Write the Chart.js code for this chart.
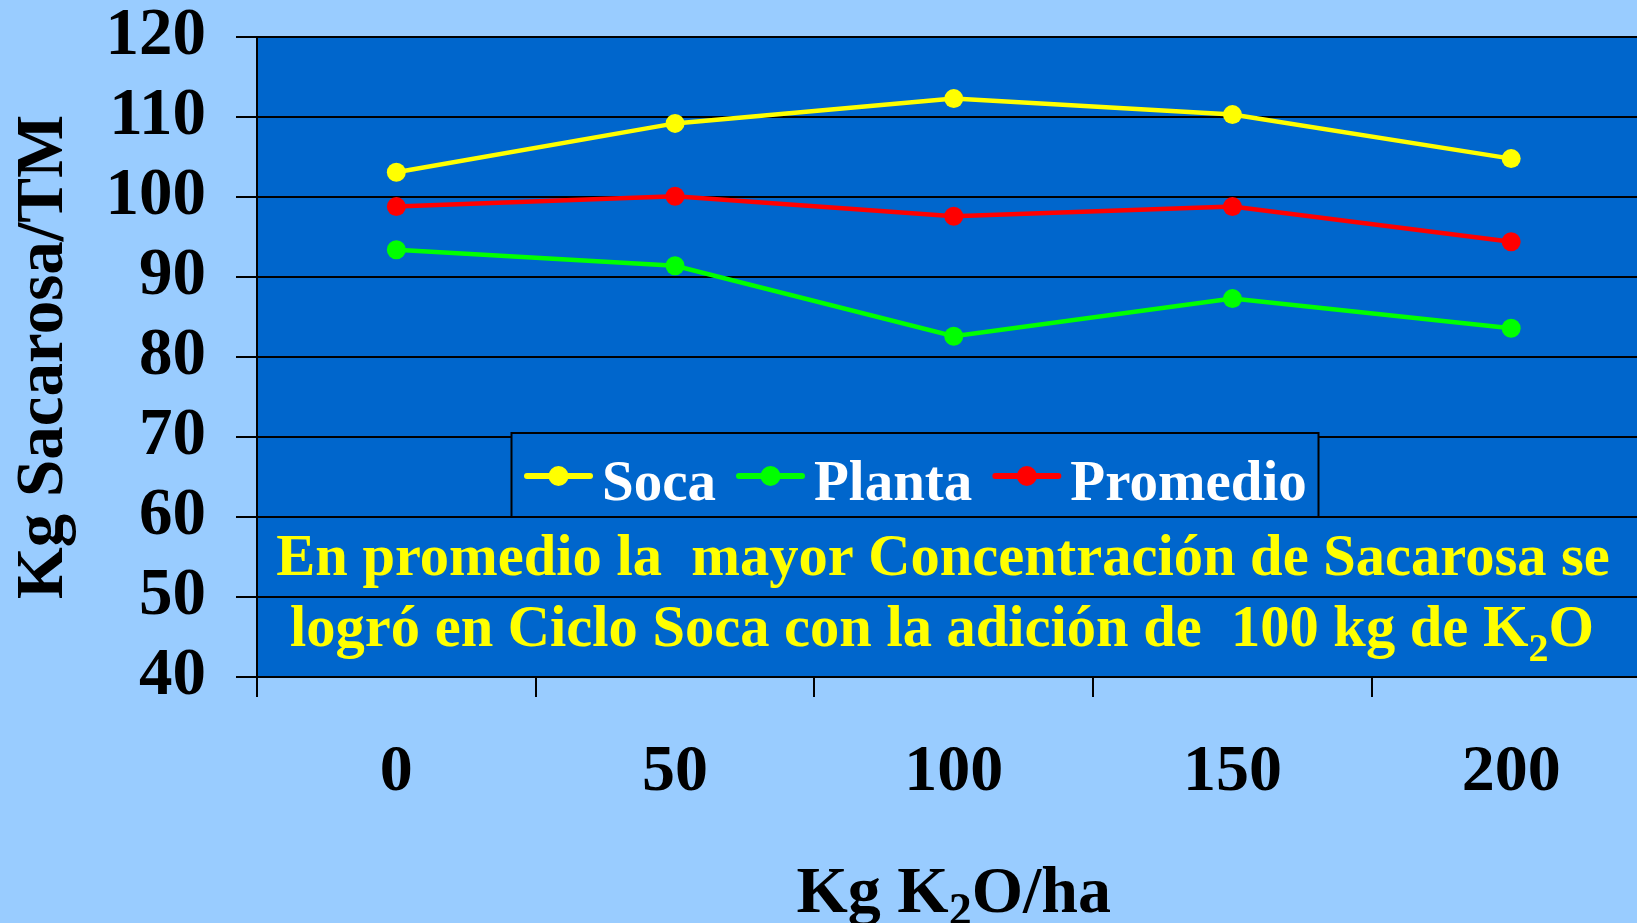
<!DOCTYPE html>
<html>
<head>
<meta charset="utf-8">
<script src="https://cdn.jsdelivr.net/npm/chart.js@4.4.1/dist/chart.umd.min.js"></script>
<style>
  html, body { margin: 0; padding: 0; overflow: hidden; background: #99CCFF; }
  #wrap { position: relative; width: 1660px; height: 923px; }
</style>
</head>
<body>
<div id="wrap"><canvas id="chart"></canvas></div>
<script>
// K2O dose categories (kg/ha)
const categories = ['0', '50', '100', '150', '200'];

// Sucrose (kg per tonne) by crop cycle
const socaValues     = [103.1, 109.2, 112.3, 110.3, 104.8];
const plantaValues   = [93.4, 91.4, 82.6, 87.3, 83.6];
const promedioValues = [98.8, 100.1, 97.6, 98.8, 94.4];

const seriesNames = ['Soca', 'Planta', 'Promedio'];

// Y axis range and tick step
const yMin = 40;
const yMax = 120;
const yStep = 10;

const yTitle = 'Kg Sacarosa/TM';
// Rich text runs: sub = subscript
const xTitleRuns = [{ text: 'Kg K' }, { text: '2', sub: true }, { text: 'O/ha' }];
const noteLine1 = [{ text: 'En promedio la  mayor Concentración de Sacarosa se' }];
const noteLine2 = [{ text: 'logró en Ciclo Soca con la adición de  100 kg de K' }, { text: '2', sub: true }, { text: 'O' }];

const FONT = "'Liberation Serif', 'Times New Roman', serif";
const PLOT_BG = '#0066CC';

function drawRuns(ctx, runs, cx, baseline, size, subSize, subDrop, color) {
  ctx.save();
  ctx.fillStyle = color;
  ctx.textAlign = 'left';
  ctx.textBaseline = 'alphabetic';
  const fontFor = r => `bold ${r.sub ? subSize : size}px ${FONT}`;
  let total = 0;
  runs.forEach(r => { ctx.font = fontFor(r); total += ctx.measureText(r.text).width; });
  let x = cx - total / 2;
  runs.forEach(r => {
    ctx.font = fontFor(r);
    ctx.fillText(r.text, x, baseline + (r.sub ? subDrop : 0));
    x += ctx.measureText(r.text).width;
  });
  ctx.restore();
}

// Blue plot background
const plotBackground = {
  id: 'plotBackground',
  beforeDraw(chart) {
    const { ctx, chartArea: a } = chart;
    ctx.save();
    ctx.fillStyle = PLOT_BG;
    ctx.fillRect(a.left, a.top, a.right - a.left, a.bottom - a.top);
    ctx.restore();
  }
};

// Boxed legend inside the plot, note text and x-axis title with subscript
const overlays = {
  id: 'overlays',
  afterDraw(chart) {
    const { ctx, chartArea: a } = chart;

    // legend box
    const box = { x: 511.5, y: 433, w: 807, h: 84 };
    ctx.save();
    ctx.fillStyle = PLOT_BG;
    ctx.fillRect(box.x, box.y, box.w, box.h);
    ctx.strokeStyle = '#000000';
    ctx.lineWidth = 2;
    ctx.strokeRect(box.x, box.y, box.w, box.h);

    ctx.font = `bold 57px ${FONT}`;
    ctx.textBaseline = 'alphabetic';
    ctx.textAlign = 'left';
    let x = 527;
    const my = 476;
    chart.data.datasets.forEach(ds => {
      ctx.strokeStyle = ds.borderColor;
      ctx.lineWidth = 6;
      ctx.lineCap = 'round';
      ctx.beginPath();
      ctx.moveTo(x, my);
      ctx.lineTo(x + 63, my);
      ctx.stroke();
      ctx.fillStyle = ds.borderColor;
      ctx.beginPath();
      ctx.arc(x + 31.5, my, 10, 0, Math.PI * 2);
      ctx.fill();
      x += 75;
      ctx.fillStyle = '#FFFFFF';
      ctx.fillText(ds.label, x, 500);
      x += ctx.measureText(ds.label).width + 23;
    });
    ctx.restore();

    // note text
    drawRuns(ctx, noteLine1, 943, 575, 58.5, 40, 15, '#FFFF00');
    drawRuns(ctx, noteLine2, 942, 646, 58.5, 40, 15, '#FFFF00');

    // x-axis title
    drawRuns(ctx, xTitleRuns, (a.left + a.right) / 2, 912, 66, 46, 13, '#000000');
  }
};

function lineSeries(label, data, color) {
  return {
    label,
    data,
    borderColor: color,
    backgroundColor: color,
    borderWidth: 4.5,
    pointRadius: 9.5,
    pointBorderWidth: 0,
    pointBackgroundColor: color,
    pointHoverRadius: 9.5,
    tension: 0,
    fill: false
  };
}

new Chart(document.getElementById('chart'), {
  type: 'line',
  data: {
    labels: categories,
    datasets: [
      lineSeries(seriesNames[0], socaValues, '#FFFF00'),
      lineSeries(seriesNames[1], plantaValues, '#00FF00'),
      lineSeries(seriesNames[2], promedioValues, '#FF0000')
    ]
  },
  options: {
    responsive: true,
    maintainAspectRatio: false,
    animation: false,
    layout: { padding: { top: 37, right: 7, left: 0, bottom: 0 } },
    plugins: {
      legend: { display: false },
      tooltip: { enabled: false },
      title: { display: false }
    },
    scales: {
      x: {
        type: 'category',
        offset: true,
        afterFit(scale) { scale.height = 246; },
        grid: {
          offset: true,
          drawOnChartArea: false,
          drawTicks: true,
          tickLength: 20,
          color: '#000000',
          lineWidth: 2
        },
        border: { display: true, color: '#000000', width: 2 },
        ticks: {
          color: '#000000',
          padding: 36,
          maxRotation: 0,
          font: { family: FONT, size: 66, weight: 'bold', lineHeight: 1.2 }
        }
      },
      y: {
        min: yMin,
        max: yMax,
        afterFit(scale) {
          scale.width = 257;
          scale.paddingTop = 0;
          scale.paddingBottom = 0;
        },
        grid: {
          color: '#000000',
          lineWidth: 2,
          drawTicks: true,
          tickLength: 21
        },
        border: { display: true, color: '#000000', width: 2 },
        ticks: {
          stepSize: yStep,
          color: '#000000',
          padding: 30,
          font: { family: FONT, size: 67, weight: 'bold', lineHeight: 1.0 }
        },
        title: {
          display: true,
          text: yTitle,
          color: '#000000',
          padding: { top: 4, bottom: 0 },
          font: { family: FONT, size: 67, weight: 'bold', lineHeight: 1.2 }
        }
      }
    }
  },
  plugins: [plotBackground, overlays]
});
</script>
</body>
</html>
